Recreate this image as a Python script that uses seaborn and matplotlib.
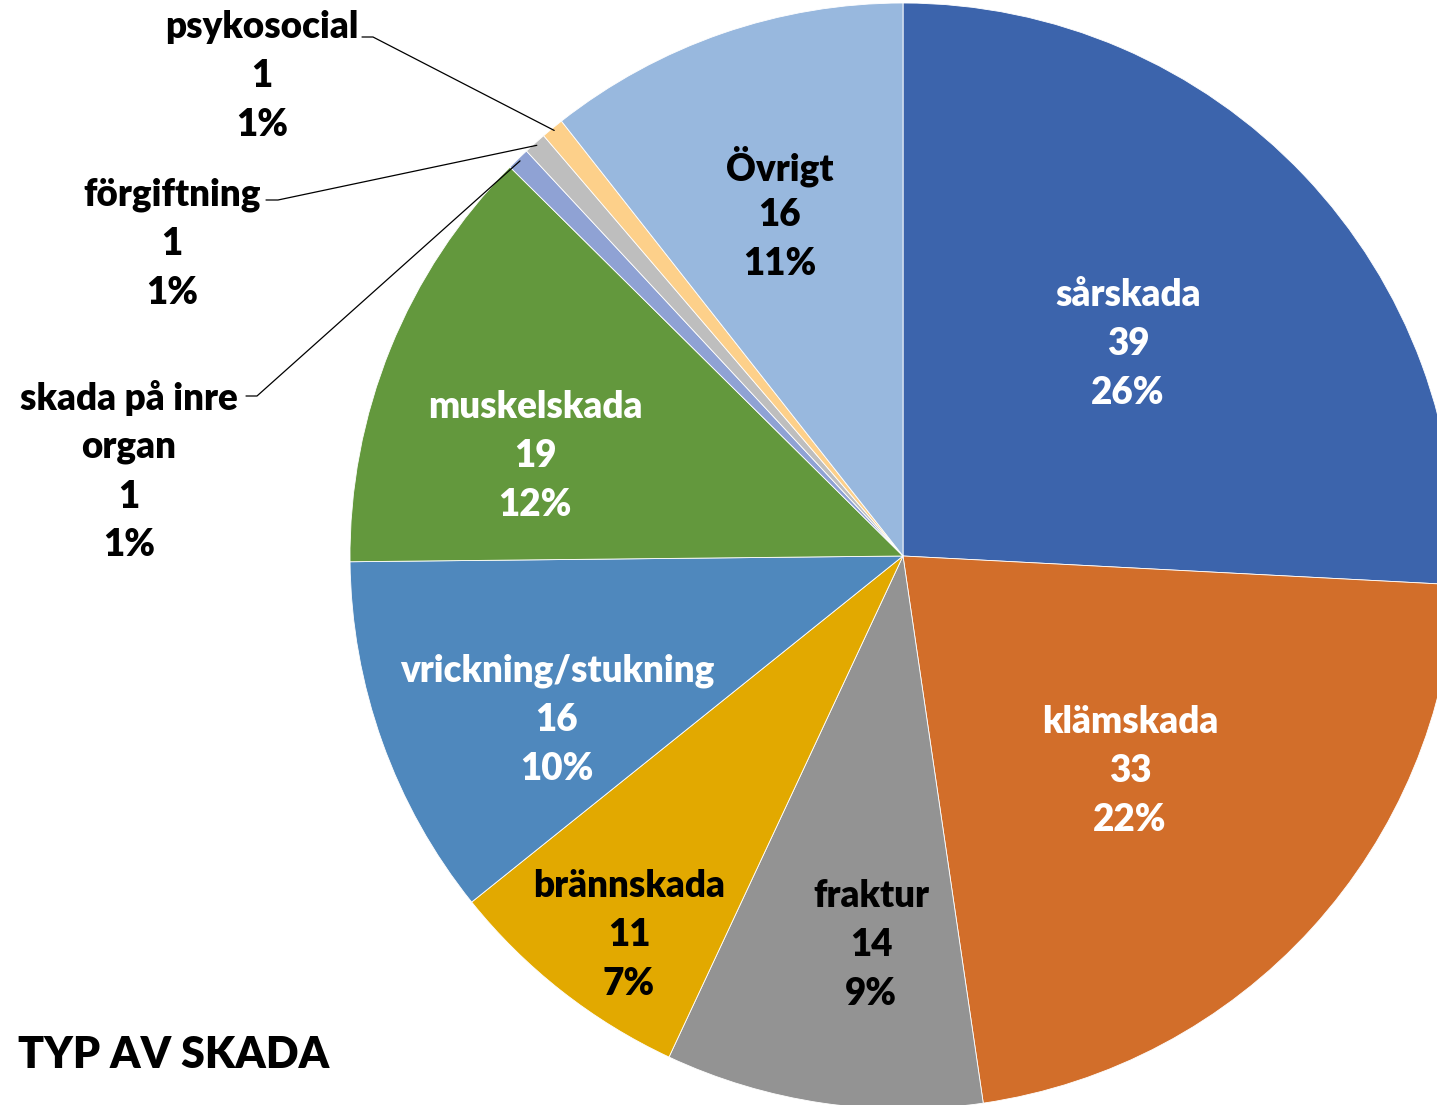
import numpy as np
import matplotlib
matplotlib.use("Agg")
import matplotlib.pyplot as plt
import seaborn as sns

# ---- data ----
categories = ["sårskada", "klämskada", "fraktur", "brännskada", "vrickning/stukning",
              "muskelskada", "skada på inre organ", "förgiftning", "psykosocial", "Övrigt"]
values = [39, 33, 14, 11, 16, 19, 1, 1, 1, 16]
percent_labels = ["26%", "22%", "9%", "7%", "10%", "12%", "1%", "1%", "1%", "11%"]
colors = ["#3C64AC", "#D26E2A", "#939393", "#E2A900", "#4F88BD",
          "#63983D", "#8FA2D4", "#BEBEBE", "#FDD08A", "#98B8DE"]
text_colors = ["white", "white", "black", "black", "white",
               "white", "black", "black", "black", "black"]
title = "TYP AV SKADA"

sns.set_theme(style="white")
plt.rcParams['font.family'] = ['Lato', 'DejaVu Sans']

W, H = 1437, 1105
fig = plt.figure(figsize=(W / 100, H / 100), dpi=100)
ax = fig.add_axes([0, 0, 1, 1])
ax.set_xlim(0, W)
ax.set_ylim(0, H)
ax.set_aspect("equal")
ax.axis("off")

cx, cy_px, R = 903, 556, 553
center = (cx, H - cy_px)

wedges, _ = ax.pie(values, colors=colors, startangle=90, counterclock=False,
                   center=center, radius=R, frame=True,
                   wedgeprops=dict(edgecolor="white", linewidth=0.6))
ax.set_xlim(0, W)
ax.set_ylim(0, H)
ax.axis("off")

FS = 26.5
WEIGHT = "heavy"
PITCH = 49

def block(x, yc_px, lines, color):
    n = len(lines)
    for i, ln in enumerate(lines):
        ypx = yc_px + (i - (n - 1) / 2) * PITCH
        ax.text(x, H - ypx, ln, ha="center", va="center", fontsize=FS,
                fontweight=WEIGHT, color=color)

# label positions (pixels, block centres)
inside_pos = {0: (1128, 344), 1: (1130, 771), 2: (871, 945), 3: (629, 935),
              4: (557, 720), 5: (535, 456), 9: (780, 215)}
for i, (x, y) in inside_pos.items():
    block(x, y, [categories[i], str(values[i]), percent_labels[i]], text_colors[i])

# outside labels with leader lines
outside = {
    8: dict(pos=(262, 76), lines=["psykosocial"], anchor=(362, 37), hlen=11),
    7: dict(pos=(172, 244), lines=["förgiftning"], anchor=(266, 200), hlen=12),
    6: dict(pos=(129, 472), lines=["skada på inre", "organ"], anchor=(246, 396), hlen=11),
}
for i, d in outside.items():
    block(d["pos"][0], d["pos"][1], d["lines"] + [str(values[i]), percent_labels[i]], "black")
    w = wedges[i]
    ang = np.deg2rad((w.theta1 + w.theta2) / 2)
    ex = center[0] + R * 0.995 * np.cos(ang)
    ey = center[1] + R * 0.995 * np.sin(ang)
    ax_, ay_ = d["anchor"]
    ax.plot([ax_, ax_ + d["hlen"], ex], [H - ay_, H - ay_, ey], color="black", lw=0.9)

ax.text(18, H - 1055, title, ha="left", va="center", fontsize=31,
        fontweight=WEIGHT, color="black")

fig.savefig("out.png", dpi=100)
